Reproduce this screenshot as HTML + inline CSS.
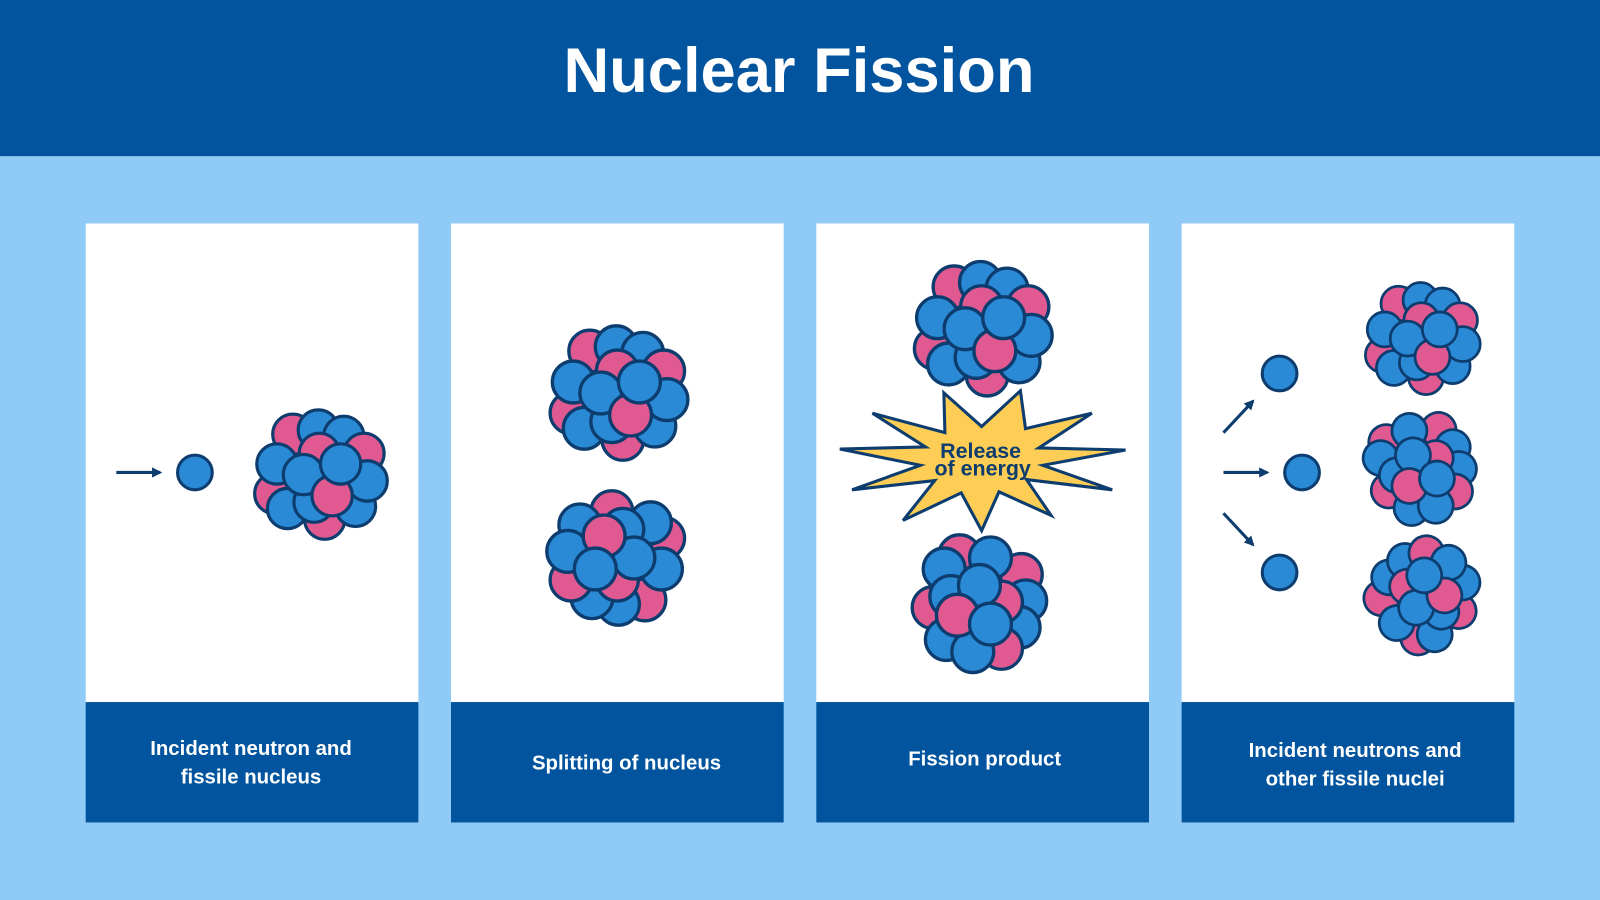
<!DOCTYPE html>
<html><head><meta charset="utf-8"><style>
html,body{margin:0;padding:0;width:1600px;height:900px;overflow:hidden;background:#90caf7}
svg{display:block}
text{font-family:"Liberation Sans",Arial,sans-serif;font-weight:bold}
</style></head><body>
<svg width="1600" height="900" viewBox="0 0 1568 882" preserveAspectRatio="none" xmlns="http://www.w3.org/2000/svg">
<defs>
<g id="nuc" stroke="#0d3c6e" stroke-width="3">
<circle cx="-25" cy="-36" r="19" fill="#e05a91"/>
<circle cx="-1" cy="-40" r="19" fill="#2b8ad6"/>
<circle cx="23" cy="-34" r="19" fill="#2b8ad6"/>
<circle cx="42" cy="-18" r="19" fill="#e05a91"/>
<circle cx="-42" cy="20" r="19" fill="#e05a91"/>
<circle cx="-30" cy="34" r="19" fill="#2b8ad6"/>
<circle cx="5" cy="44" r="19" fill="#e05a91"/>
<circle cx="34" cy="32" r="19" fill="#2b8ad6"/>
<circle cx="45" cy="8" r="19" fill="#2b8ad6"/>
<circle cx="-40" cy="-8" r="19" fill="#2b8ad6"/>
<circle cx="0" cy="-18" r="19" fill="#e05a91"/>
<circle cx="-5" cy="28" r="19" fill="#2b8ad6"/>
<circle cx="-15" cy="2" r="19" fill="#2b8ad6"/>
<circle cx="12" cy="22" r="19" fill="#e05a91"/>
<circle cx="20" cy="-8" r="19" fill="#2b8ad6"/>
</g>
<marker id="ah" markerWidth="10" markerHeight="10" refX="8" refY="5" orient="auto" markerUnits="userSpaceOnUse">
<path d="M0,0 L10,5 L0,10 Z" fill="#0d3c6e"/>
</marker>
</defs>
<rect x="0" y="0" width="1568" height="153" fill="#01549d"/>
<text x="783" y="90" font-size="62" fill="#fff" text-anchor="middle">Nuclear Fission</text>

<g fill="#fff">
<rect x="84" y="219" width="326" height="470"/>
<rect x="442" y="219" width="326" height="470"/>
<rect x="800" y="219" width="326" height="470"/>
<rect x="1158" y="219" width="326" height="470"/>
</g>
<g fill="#01549d">
<rect x="84" y="688" width="326" height="118"/>
<rect x="442" y="688" width="326" height="118"/>
<rect x="800" y="688" width="326" height="118"/>
<rect x="1158" y="688" width="326" height="118"/>
</g>
<g fill="#fff" font-size="20" text-anchor="middle">
<text x="246" y="740">Incident neutron and</text>
<text x="246" y="768">fissile nucleus</text>
<text x="614" y="754">Splitting of nucleus</text>
<text x="965" y="750">Fission product</text>
<text x="1328" y="742">Incident neutrons and</text>
<text x="1328" y="770">other fissile nuclei</text>
</g>

<!-- panel 1 -->
<line x1="114" y1="463" x2="157" y2="463" stroke="#0d3c6e" stroke-width="3" marker-end="url(#ah)"/>
<circle cx="191" cy="463" r="17" fill="#2b8ad6" stroke="#0d3c6e" stroke-width="3"/>
<use href="#nuc" transform="translate(313,463) scale(1.04)"/>

<!-- panel 2 -->
<use href="#nuc" transform="translate(605,383) scale(1.08)"/>
<use href="#nuc" transform="translate(605,549) scale(1.08) rotate(180)"/>

<!-- panel 3 -->
<use href="#nuc" transform="translate(962,320) scale(1.08)"/>
<use href="#nuc" transform="translate(962,590) scale(1.08) rotate(90)"/>
<polygon points="925,385 962,418 1000,383 1005,420 1070,405 1018,439 1103,441 1022,456 1090,480 1006,470 1030,505 979,482 962,520 942,483 885,510 916,471 835,480 902,456 823,440 907,438 855,405 926,424" fill="#fdcd55" stroke="#0d3c6e" stroke-width="3" stroke-linejoin="miter"/>
<text x="961" y="449" font-size="21" fill="#0d3c6e" text-anchor="middle">Release</text>
<text x="963" y="466" font-size="21" fill="#0d3c6e" text-anchor="middle">of energy</text>

<!-- panel 4 -->
<g stroke="#0d3c6e" stroke-width="3">
<line x1="1199" y1="424" x2="1228" y2="393" marker-end="url(#ah)"/>
<line x1="1199" y1="463" x2="1242" y2="463" marker-end="url(#ah)"/>
<line x1="1199" y1="503" x2="1228" y2="534" marker-end="url(#ah)"/>
</g>
<g fill="#2b8ad6" stroke="#0d3c6e" stroke-width="3">
<circle cx="1254" cy="366" r="17"/>
<circle cx="1276" cy="463" r="17"/>
<circle cx="1254" cy="561" r="17"/>
</g>
<use href="#nuc" transform="translate(1393,330) scale(0.9)"/>
<use href="#nuc" transform="translate(1393,457) scale(0.9) rotate(60)"/>
<use href="#nuc" transform="translate(1393,583) scale(0.9) rotate(-60)"/>
</svg>
</body></html>
